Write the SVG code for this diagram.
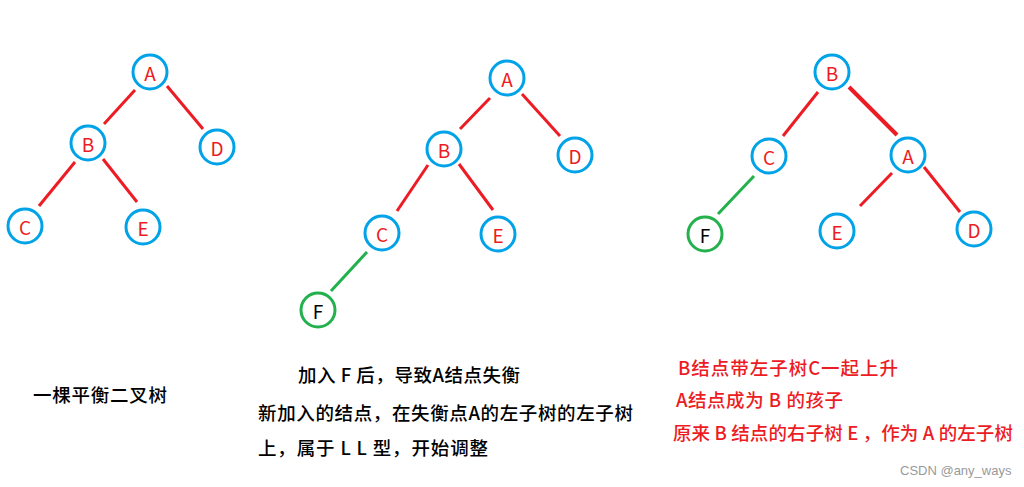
<svg xmlns="http://www.w3.org/2000/svg" width="1024" height="487" viewBox="0 0 1024 487">
<style>
.n circle{fill:#fff;stroke:#00a2e8;stroke-width:3}
.n.g circle{stroke:#22b14c}
.n text{font-family:"Noto Sans CJK SC","Liberation Sans",sans-serif;font-size:19px;fill:#ed1c24;text-anchor:middle;dominant-baseline:central}
.n.g text{fill:#000}
.e line{stroke:#ed1c24;stroke-width:3}
.e line.g{stroke:#22b14c}
.t{font-family:"Noto Sans CJK SC","Liberation Sans",sans-serif;font-size:18.5px;font-weight:500;fill:#000}
.r{fill:#ed1c24}
</style>
<rect width="1024" height="487" fill="#fff"/>
<g id="connectors" class="e">
<line x1="135" y1="90" x2="104" y2="124"/>
<line x1="167" y1="86" x2="203" y2="129"/>
<line x1="75" y1="162" x2="39" y2="206"/>
<line x1="103" y1="159" x2="137" y2="202"/>
<line x1="490" y1="98" x2="460" y2="129"/>
<line x1="522" y1="94" x2="560" y2="136"/>
<line x1="428" y1="165" x2="397" y2="211"/>
<line x1="459" y1="164" x2="493" y2="210"/>
<line class="g" x1="367" y1="252" x2="331" y2="291"/>
<line x1="818" y1="92" x2="783" y2="136"/>
<line x1="849" y1="87" x2="897" y2="135" style="stroke-width:4"/>
<line class="g" x1="754" y1="176" x2="718" y2="214"/>
<line x1="892" y1="173" x2="860" y2="206"/>
<line x1="924" y1="167" x2="960" y2="212"/>
</g>
<g id="t1A" class="n"><circle cx="150" cy="72" r="17"/><text x="150" y="72">A</text></g>
<g id="t1B" class="n"><circle cx="88" cy="143" r="17"/><text x="88" y="143">B</text></g>
<g id="t1D" class="n"><circle cx="217" cy="147" r="17"/><text x="217" y="147">D</text></g>
<g id="t1C" class="n"><circle cx="25" cy="226" r="17"/><text x="25" y="226">C</text></g>
<g id="t1E" class="n"><circle cx="143" cy="227" r="17"/><text x="143" y="227">E</text></g>

<g id="t2A" class="n"><circle cx="507" cy="78" r="17"/><text x="507" y="78">A</text></g>
<g id="t2B" class="n"><circle cx="444" cy="149" r="17"/><text x="444" y="149">B</text></g>
<g id="t2D" class="n"><circle cx="575" cy="155" r="17"/><text x="575" y="155">D</text></g>
<g id="t2C" class="n"><circle cx="382" cy="233" r="17"/><text x="382" y="233">C</text></g>
<g id="t2E" class="n"><circle cx="498" cy="234" r="17"/><text x="498" y="234">E</text></g>
<g id="t2F" class="n g"><circle cx="318" cy="310" r="17"/><text x="318" y="310">F</text></g>

<g id="t3B" class="n"><circle cx="832" cy="72" r="17"/><text x="832" y="72">B</text></g>
<g id="t3C" class="n"><circle cx="769" cy="156" r="17"/><text x="769" y="156">C</text></g>
<g id="t3A" class="n"><circle cx="908" cy="155" r="17"/><text x="908" y="155">A</text></g>
<g id="t3F" class="n g"><circle cx="705" cy="234" r="17"/><text x="705" y="234">F</text></g>
<g id="t3E" class="n"><circle cx="837" cy="231" r="17"/><text x="837" y="231">E</text></g>
<g id="t3D" class="n"><circle cx="974" cy="229" r="17"/><text x="974" y="229">D</text></g>

<text class="t" x="33" y="402" textLength="134" lengthAdjust="spacing">一棵平衡二叉树</text>
<text class="t" x="298" y="382" textLength="222" lengthAdjust="spacing">加入 F 后，导致A结点失衡</text>
<text class="t" x="258" y="420" textLength="375" lengthAdjust="spacing">新加入的结点，在失衡点A的左子树的左子树</text>
<text class="t" x="258" y="455" textLength="230" lengthAdjust="spacing">上，属于 L L 型，开始调整</text>
<text class="t r" x="678" y="375" textLength="220" lengthAdjust="spacing">B结点带左子树C一起上升</text>
<text class="t r" x="676" y="407" textLength="167" lengthAdjust="spacing">A结点成为 B 的孩子</text>
<text class="t r" x="673" y="440" textLength="340" lengthAdjust="spacing">原来 B 结点的右子树 E ，作为 A 的左子树</text>
<text x="900" y="475" style="font-family:'Liberation Sans',sans-serif;font-size:13px;fill:#999">CSDN @any_ways</text>
</svg>
